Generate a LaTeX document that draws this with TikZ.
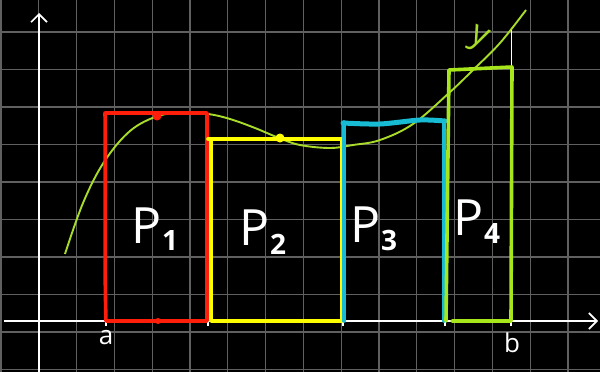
\documentclass[tikz,border=0pt]{standalone}
\usepackage{fontspec}
\setmainfont{Open Sans}
\usetikzlibrary{arrows.meta}
\definecolor{boardBg}{HTML}{000000}
\definecolor{gridGray}{HTML}{606060}
\definecolor{rectRed}{HTML}{FF1E0A}
\definecolor{rectYellow}{HTML}{FFFF00}
\definecolor{rectCyan}{HTML}{17BCD4}
\definecolor{rectGreen}{HTML}{A6E61A}
\definecolor{curveGreen}{HTML}{A8DC28}

\begin{document}
\begin{tikzpicture}[x=1pt,y=-1pt,
    gridline/.style={gridGray,line width=1.1pt},
    axis/.style={white,line width=1.6pt,-{Straight Barb[length=8pt,width=16pt,line width=1.6pt]}},
    tick/.style={white,line width=1.6pt},
    strip/.style={line width=3.6pt,line join=round,line cap=round},
    plabel/.style={white,font=\fontsize{50}{50}\selectfont,inner sep=0pt},
    endlabel/.style={white,font=\fontsize{26}{26}\selectfont,inner sep=0pt}]
  % board and grid
  \fill[boardBg] (0,0) rectangle (600,372);
  \useasboundingbox (0,0) rectangle (600,372);
  \foreach \k in {0,...,15}
    \draw[gridline] ({1+37.8*\k},0) -- ({1+37.8*\k},372);
  \foreach \k in {-1,...,9}
    \draw[gridline] (0,{32+37.5*\k}) -- (600,{32+37.5*\k});
  % axes
  \draw[axis] (39,372) -- (39,13);
  \draw[axis] (4,321) -- (598,321);
  \foreach \t in {106,208,343,445,511}
    \draw[tick] (\t,315) -- (\t,326);
  % the function
  \draw[curveGreen,line width=1.9pt] plot[smooth,tension=0.6] coordinates {
    (65,254) (83,203) (104,162) (130,131) (158,116) (183,113) (208,114)
    (230,119) (255,128) (279,138) (300,145) (330,148) (353,145) (380,140)
    (413,124) (449,93) (473,70) (500,43) (526,10)};
  \draw[white,line width=1pt] (511,30) -- (511,67);
  % the four strips
  \draw[strip,rectRed] (106,321) .. controls (104,250) and (106,180) .. (105,113)
    -- (207,113) -- (207,321) -- cycle;
  \draw[strip,rectYellow] (208,139) -- (342,139) -- (342,321) -- (211,321) -- (211,139);
  \draw[strip,rectCyan] (344,321) -- (344,122);
  \draw[strip,rectCyan] (444,121) -- (444,321);
  \draw[rectCyan,line width=5pt,line cap=round] plot[smooth] coordinates {
    (343,123) (380,124) (420,120) (445,121)};
  \draw[strip,rectGreen] (446,321) -- (449,70) -- (512,67) -- (511,321) -- (452,321);
  % sample points
  \fill[rectRed] (157,116) circle (4.5pt);
  \fill[rectRed] (158,321) circle (3pt);
  \fill[rectYellow] (280,138) circle (4.5pt);
  % labels
  \node[plabel] (p1) at (155,229) {P\raisebox{-7pt}{\fontsize{28}{28}\selectfont\bfseries 1}};
  \node[plabel] (p2) at (263,232) {P\raisebox{-9pt}{\fontsize{28}{28}\selectfont\bfseries 2}};
  \node[plabel] (p3) at (374,229) {P\raisebox{-8pt}{\fontsize{28}{28}\selectfont\bfseries 3}};
  \node[plabel] (p4) at (477,222) {P\raisebox{-8pt}{\fontsize{28}{28}\selectfont\bfseries 4}};
  \node[endlabel] (a) at (106,338) {a};
  \node[endlabel] (b) at (512,343) {b};
  \node[curveGreen,font=\fontsize{34}{34}\selectfont,rotate=-25,inner sep=0pt] (y) at (478,40) {y};
\end{tikzpicture}
\end{document}
